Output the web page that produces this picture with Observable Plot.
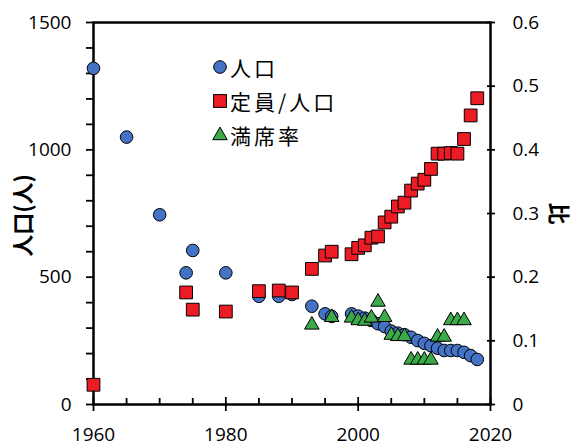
<!DOCTYPE html>
<html><head><meta charset="utf-8">
<script src="https://cdn.jsdelivr.net/npm/d3@7"></script>
<script src="https://cdn.jsdelivr.net/npm/@observablehq/plot@0.6"></script>
<style>
body{margin:0;background:#fff;}
#wrap{position:relative;width:573px;height:443px;}
.legend{position:absolute;left:212px;top:50px;font-family:"Noto Sans CJK JP",sans-serif;font-size:21px;letter-spacing:3px;color:#000;}
.row{display:flex;align-items:center;height:34px;white-space:nowrap;}
.row svg{margin-right:2px;flex:none}
</style></head><body><div id="wrap"></div>
<script>
// 人口
const popYears  = [1960,1965,1970,1974,1975,1980,1985,1988,1990,1993,1995,1996,
  1999,2000,2001,2002,2003,2004,2005,2006,2007,2008,2009,2010,2011,2012,2013,2014,2015,2016,2017,2018];
const popValues = [1320,1050,745,517,605,517,425,425,432,386,356,346,
  356,347,339,330,317,306,288,280,274,264,251,240,231,221,212,212,212,205,192,177];
// 定員/人口
const ratioYears  = [1960,1974,1975,1980,1985,1988,1990,1993,1995,1996,
  1999,2000,2001,2002,2003,2004,2005,2006,2007,2008,2009,2010,2011,2012,2013,2014,2015,2016,2017,2018];
const ratioValues = [0.031,0.176,0.149,0.146,0.178,0.179,0.176,0.213,0.234,0.240,
  0.236,0.246,0.250,0.262,0.264,0.286,0.295,0.311,0.317,0.336,0.347,0.353,0.370,0.394,0.394,0.395,0.394,0.417,0.454,0.481];
// 満席率
const seatYears  = [1993,1996,1999,2000,2001,2002,2003,2004,2005,2006,2007,2008,2009,2010,2011,2012,2013,2014,2015,2016];
const seatValues = [0.125,0.137,0.136,0.132,0.131,0.136,0.161,0.137,0.109,0.107,0.107,0.070,0.070,0.070,0.070,0.106,0.106,0.132,0.132,0.132];

const xMajor = [1960,1980,2000,2020];
const xMinor = [1965,1970,1975,1985,1990,1995,2005,2010,2015];
const yMajor = [0,500,1000,1500];
const yAll = d3.range(0,1501,100);
const rTicks = [0,0.1,0.2,0.3,0.4,0.5,0.6];
const seriesNames = ["人口","定員/人口","満席率"];
const yTitle = "人口(人)", rTitle = "比";
const colors = {pop:"#4472C4", ratio:"#ED1C24", seat:"#3DAA49"};

const yMax = 1500, rMax = 0.6, K = yMax / rMax;
const pop = popYears.map((year,i)=>({year, value: popValues[i]}));
const ratio = ratioYears.map((year,i)=>({year, value: ratioValues[i]}));
const seat = seatYears.map((year,i)=>({year, value: seatValues[i]}));

const FS = 19;
const chart = Plot.plot({
  width:573, height:443, marginLeft:93, marginRight:83, marginTop:22, marginBottom:39,
  x:{domain:[1960,2020]}, y:{domain:[0,yMax]},
  style:{fontFamily:"'Open Sans', sans-serif", fontSize:FS+"px", color:"#000", background:"#fff", overflow:"visible"},
  marks:[
    Plot.axisX(xMajor,{tickSize:14, insetBottom:7, tickPadding:16, tickFormat:d=>String(d), strokeWidth:1.8, fontSize:FS, label:null}),
    Plot.axisX(xMinor,{tickSize:6, insetBottom:6, tickFormat:()=>"", strokeWidth:1.8, label:null}),
    Plot.axisY(yAll,{tickSize:7, tickPadding:15, tickFormat:d=>yMajor.includes(d)?String(d):"", strokeWidth:1.8, fontSize:FS, label:null}),
    Plot.axisY(rTicks.map(r=>r*K),{anchor:"right", tickSize:8, insetRight:4, tickPadding:18, tickFormat:d=>String(Math.round(d/K*10)/10), strokeWidth:1.8, fontSize:FS, label:null}),
    Plot.frame({stroke:"#000", strokeWidth:2.5}),
    Plot.dot(pop,{x:"year", y:"value", r:6.3, fill:colors.pop, stroke:"#000", strokeWidth:1}),
    Plot.dot(ratio,{x:"year", y:d=>d.value*K, symbol:"square", r:7.2, fill:colors.ratio, stroke:"#000", strokeWidth:1}),
    Plot.dot(seat,{x:"year", y:d=>d.value*K, symbol:"triangle", r:5.4, fill:colors.seat, stroke:"#000", strokeWidth:1}),
    Plot.text([yTitle],{text:d=>d, frameAnchor:"left", textAnchor:"middle", dx:-70, dy:2, rotate:-90, fontSize:22, fontWeight:"bold", fontFamily:"'Noto Sans CJK JP'", fill:"#000"}),
    Plot.text([rTitle],{text:d=>d, frameAnchor:"right", textAnchor:"middle", dx:68, dy:0, rotate:90, fontSize:22, fontWeight:"bold", fontFamily:"'Noto Sans CJK JP'", fill:"#000"})
  ]
});
const wrap = document.getElementById("wrap");
wrap.appendChild(chart);

const legend = document.createElement("div");
legend.className = "legend";
const sym = [
  `<circle cx="8" cy="8" r="6.3" fill="${colors.pop}" stroke="#000"/>`,
  `<rect x="1.6" y="1.6" width="12.8" height="12.8" fill="${colors.ratio}" stroke="#000"/>`,
  `<path d="${d3.symbol(d3.symbolTriangle, Math.PI*5.4*5.4)()}" transform="translate(8,8.5)" fill="${colors.seat}" stroke="#000"/>`
];
legend.innerHTML = seriesNames.map((n,i)=>`<div class="row"><svg width="16" height="16">${sym[i]}</svg><span>${n}</span></div>`).join("");
wrap.appendChild(legend);
</script>
</body></html>
